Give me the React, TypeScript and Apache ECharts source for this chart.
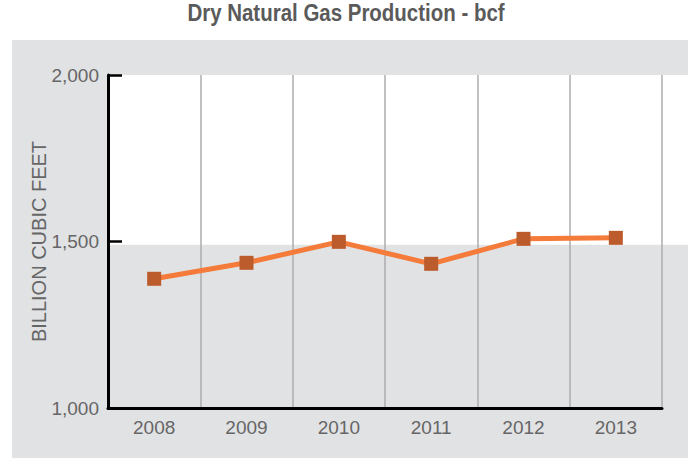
import React, { useEffect, useRef } from "react";
import * as echarts from "echarts";

const years = ["2008", "2009", "2010", "2011", "2012", "2013"];
const production = [1388, 1436, 1499, 1433, 1508, 1511];
const yTicks = { min: 1000, max: 2000, interval: 500 };
const whiteBandFrom = 1490;
const titleText = "Dry Natural Gas Production - bcf";

const W = 688;
const H = 458;
const GRID = { left: 108, right: 26, top: 75, bottom: 50 };
const FONT = "'Liberation Sans', Arial, sans-serif";

export default function App() {
  const ref = useRef<HTMLDivElement>(null);
  useEffect(() => {
    if (!ref.current) return;
    const chart = echarts.init(ref.current, undefined, { renderer: "svg" });
    const gridH = H - GRID.top - GRID.bottom;
    const bandBottom =
      GRID.top + ((yTicks.max - whiteBandFrom) / (yTicks.max - yTicks.min)) * gridH;
    chart.setOption({
      animation: false,
      backgroundColor: "#ffffff",
      graphic: [
        {
          type: "rect",
          z: -20,
          silent: true,
          shape: { x: 12, y: 40, width: W - 12, height: H - 40 },
          style: { fill: "#e1e2e4" },
        },
        {
          type: "rect",
          z: -10,
          silent: true,
          shape: { x: GRID.left, y: GRID.top, width: W - GRID.left, height: bandBottom - GRID.top },
          style: { fill: "#ffffff" },
        },
        {
          type: "text",
          x: 346,
          y: 2,
          scaleX: 0.89,
          silent: true,
          style: {
            text: titleText,
            font: `bold 23px ${FONT}`,
            fill: "#5a5a5a",
            textAlign: "center",
            textVerticalAlign: "top",
          },
        },
      ],
      grid: { ...GRID, containLabel: false },
      xAxis: {
        type: "category",
        data: years,
        boundaryGap: true,
        axisLine: { show: true, lineStyle: { color: "#000", width: 3 } },
        axisTick: { show: false },
        splitLine: { show: true, lineStyle: { color: "#adadad", width: 1.5 } },
        axisLabel: {
          color: "#666",
          fontFamily: FONT,
          fontSize: 19,
          margin: 10,
        },
      },
      yAxis: {
        type: "value",
        min: yTicks.min,
        max: yTicks.max,
        interval: yTicks.interval,
        name: "BILLION CUBIC FEET",
        nameLocation: "middle",
        nameGap: 59,
        nameMoveOverlap: false,
        nameTextStyle: {
          color: "#666",
          fontFamily: FONT,
          fontSize: 20,
        },
        axisLine: { show: true, lineStyle: { color: "#000", width: 3 } },
        axisTick: { show: true, inside: true, length: 14, lineStyle: { color: "#000", width: 2.5 } },
        splitLine: { show: false },
        axisLabel: {
          color: "#666",
          fontFamily: FONT,
          fontSize: 19,
          margin: 9,
          formatter: (v: number) => v.toLocaleString("en-US"),
        },
      },
      series: [
        {
          type: "line",
          data: production,
          symbol: "rect",
          symbolSize: 14,
          lineStyle: { color: "#f47b3a", width: 5 },
          itemStyle: { color: "#bc5b2b" },
          z: 5,
        },
      ],
    });
    return () => chart.dispose();
  }, []);
  return (
    <div
      ref={ref}
      style={{ position: "fixed", left: 0, top: 0, width: W, height: H }}
    />
  );
}
